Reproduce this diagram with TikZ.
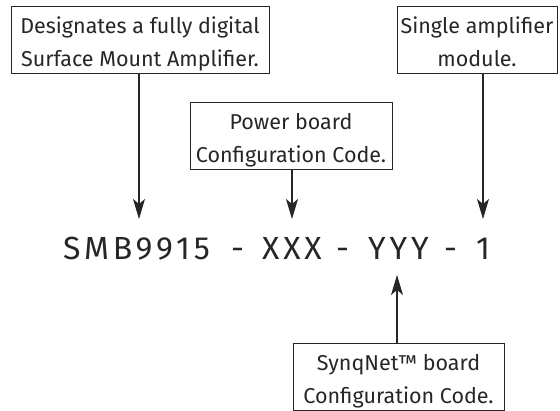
\documentclass[tikz,border=0pt]{standalone}
\usepackage{fontspec}
\setmainfont{Fira Sans}
\usetikzlibrary{arrows.meta}
\newfontfamily\codefont[LetterSpace=12]{Fira Sans}
\newcommand\mytopstrut{\rule{0pt}{27pt}}
\newcommand\mybotstrut{\rule[-7pt]{0pt}{7pt}}
\newcommand\seg[2]{\makebox[#1][l]{#2}}
\begin{document}
\begin{tikzpicture}[x=1pt,y=-1pt,
  lbl/.style={draw=black!85, line width=1pt, inner sep=0pt, align=center,
    text=black!85, font=\fontsize{21.5}{33}\selectfont},
  arr/.style={draw=black!85, line width=1.1pt, -{Stealth[length=20pt,width=12pt,inset=5pt]}}]
\useasboundingbox (0,0) rectangle (560,411);
\node[lbl, minimum width=258pt, minimum height=64pt] (b1) at (140,40)
  {\mytopstrut Designates a fully digital\\Surface Mount Amplifier.\mybotstrut};
\node[lbl, minimum width=202pt, minimum height=63pt] (b2) at (291,136.5)
  {\mytopstrut Power board\\Configuration Code.\mybotstrut};
\node[lbl, minimum width=160pt, minimum height=64pt] (b3) at (477,40)
  {\mytopstrut Single amplifier\\module.\mybotstrut};
\node[lbl, minimum width=211pt, minimum height=63pt] (b4) at (398.5,377.5)
  {\mytopstrut SynqNet™ board\\Configuration Code.\mybotstrut};
\node[inner sep=0pt, anchor=base west, text=black!85, font=\codefont\fontsize{32}{36}\selectfont] (code) at (63,260)
  {\seg{168pt}{SMB9915}\seg{31pt}{-}\seg{74pt}{XXX}\seg{32pt}{-}\seg{76pt}{YYY}\seg{32pt}{-}1};
\coordinate (t1) at (139,219);
\coordinate (t2) at (292,219);
\coordinate (t3) at (483,219);
\coordinate (t4) at (397,275);
\draw[arr] (b1.south -| t1) -- (t1);
\draw[arr] (b2.south -| t2) -- (t2);
\draw[arr] (b3.south -| t3) -- (t3);
\draw[arr] (b4.north -| t4) -- (t4);
\end{tikzpicture}
\end{document}
